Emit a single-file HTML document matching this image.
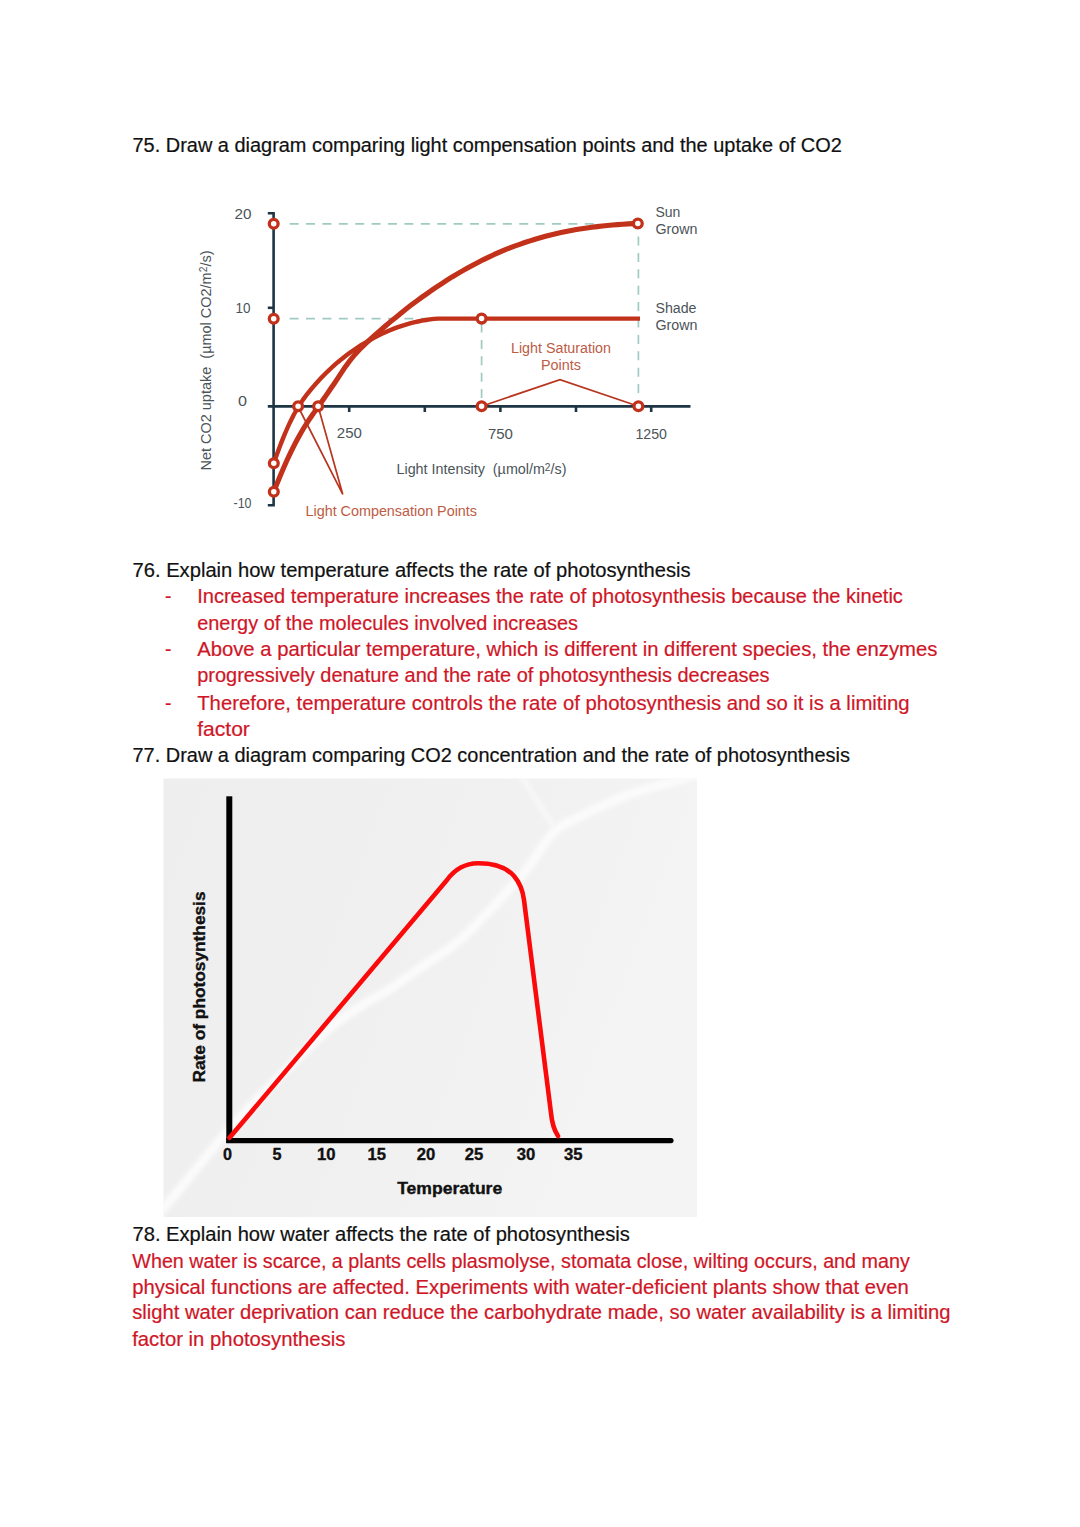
<!DOCTYPE html>
<html><head><meta charset="utf-8">
<style>
html,body{margin:0;padding:0;background:#fff;}
body{width:1080px;height:1527px;overflow:hidden;}
svg{display:block;}
.t{font-family:"Liberation Sans",sans-serif;font-size:19.3px;}
.k{fill:#111;stroke:#111;stroke-width:0.2;}
.r{fill:#cf1627;stroke:#cf1627;stroke-width:0.2;}
.c1{font-family:"Liberation Sans",sans-serif;font-size:14px;fill:#4b5459;}
.c1r{font-family:"Liberation Sans",sans-serif;font-size:14px;fill:#bd5b45;}
.c2{font-family:"Liberation Sans",sans-serif;font-weight:bold;font-size:16px;fill:#111;stroke:#111;stroke-width:0.35;}
</style></head>
<body>
<svg width="1080" height="1527" viewBox="0 0 1080 1527">
<!-- ===== Text ===== -->
<g class="t">
<text class="k" x="132.5" y="151.7" textLength="709.3" lengthAdjust="spacingAndGlyphs">75. Draw a diagram comparing light compensation points and the uptake of CO2</text>
<text class="k" x="132.5" y="576.9" textLength="558.1" lengthAdjust="spacingAndGlyphs">76. Explain how temperature affects the rate of photosynthesis</text>
<text class="r" x="165" y="603.3">-</text>
<text class="r" x="197.2" y="603.3" textLength="705.7" lengthAdjust="spacingAndGlyphs">Increased temperature increases the rate of photosynthesis because the kinetic</text>
<text class="r" x="197.2" y="629.5" textLength="380.9" lengthAdjust="spacingAndGlyphs">energy of the molecules involved increases</text>
<text class="r" x="165" y="656.2">-</text>
<text class="r" x="197.2" y="656.2" textLength="740.2" lengthAdjust="spacingAndGlyphs">Above a particular temperature, which is different in different species, the enzymes</text>
<text class="r" x="197.2" y="682.4" textLength="572.4" lengthAdjust="spacingAndGlyphs">progressively denature and the rate of photosynthesis decreases</text>
<text class="r" x="165" y="709.5">-</text>
<text class="r" x="197.2" y="709.5" textLength="712.4" lengthAdjust="spacingAndGlyphs">Therefore, temperature controls the rate of photosynthesis and so it is a limiting</text>
<text class="r" x="197.2" y="735.5" textLength="52.7" lengthAdjust="spacingAndGlyphs">factor</text>
<text class="k" x="132.5" y="762.3" textLength="717.4" lengthAdjust="spacingAndGlyphs">77. Draw a diagram comparing CO2 concentration and the rate of photosynthesis</text>
<text class="k" x="132.5" y="1240.6" textLength="497.4" lengthAdjust="spacingAndGlyphs">78. Explain how water affects the rate of photosynthesis</text>
<text class="r" x="132.3" y="1267.5" textLength="777.5" lengthAdjust="spacingAndGlyphs">When water is scarce, a plants cells plasmolyse, stomata close, wilting occurs, and many</text>
<text class="r" x="132.2" y="1293.7" textLength="776.5" lengthAdjust="spacingAndGlyphs">physical functions are affected. Experiments with water-deficient plants show that even</text>
<text class="r" x="132.2" y="1319.3" textLength="818.3" lengthAdjust="spacingAndGlyphs">slight water deprivation can reduce the carbohydrate made, so water availability is a limiting</text>
<text class="r" x="132.2" y="1345.8" textLength="213.3" lengthAdjust="spacingAndGlyphs">factor in photosynthesis</text>
</g>
<!-- CHART1 -->
<g id="chart1">
<!-- dashed guides -->
<g stroke="#a0cbc3" stroke-width="1.7" stroke-dasharray="9 7.4" fill="none">
<line x1="289.6" y1="223.8" x2="600" y2="223.8"/>
<line x1="289.6" y1="318.6" x2="436" y2="318.6"/>
<line x1="481.6" y1="323.5" x2="481.6" y2="402" stroke-dasharray="9 7.4"/>
<line x1="638.4" y1="236.5" x2="638.4" y2="396"/>
</g>
<!-- axes -->
<g stroke="#1e3546" fill="none" stroke-width="2.6">
<polyline points="267.8,213.3 273.6,213.3 273.6,505.2 267.8,505.2"/>
<line x1="267.8" y1="307.8" x2="273.6" y2="307.8"/>
<line x1="267.8" y1="406.4" x2="690.5" y2="406.4"/>
<line x1="349.2" y1="406.4" x2="349.2" y2="412"/>
<line x1="424.8" y1="406.4" x2="424.8" y2="412"/>
<line x1="500.4" y1="406.4" x2="500.4" y2="412"/>
<line x1="576" y1="406.4" x2="576" y2="412"/>
<line x1="651.2" y1="406.4" x2="651.2" y2="412"/>
</g>
<!-- curves -->
<g fill="none" stroke="#c2311a" stroke-linecap="round" stroke-linejoin="round">
<path d="M273.8,491.7 L276.3,485.4 L278.8,479.2 L281.3,473.2 L283.8,467.4 L286.3,461.8 L288.8,456.4 L291.3,451.1 L293.8,446.1 L296.3,441.3 L298.8,436.7 L301.3,432.2 L303.8,428.0 L306.3,424.0 L308.8,420.2 L311.3,416.5 L313.8,412.9 L316.3,409.4 L318.8,405.8 L321.3,402.3 L323.8,398.7 L326.3,395.1 L328.8,391.5 L331.3,387.8 L333.8,384.2 L339.0,376.4 L344.1,368.6 L349.3,361.4 L354.5,355.0 L359.6,349.5 L364.8,344.4 L369.9,339.7 L375.1,335.0 L380.3,330.5 L385.4,326.0 L390.6,321.6 L395.8,317.4 L400.9,313.2 L406.1,309.1 L411.2,305.1 L416.4,301.2 L421.6,297.4 L426.7,293.8 L431.9,290.2 L437.1,286.7 L442.2,283.3 L447.4,279.9 L452.5,276.7 L457.7,273.6 L462.9,270.6 L468.0,267.7 L473.2,264.9 L478.4,262.2 L483.5,259.6 L488.7,257.1 L493.8,254.7 L499.0,252.4 L504.2,250.2 L509.3,248.1 L514.5,246.1 L519.7,244.3 L524.8,242.5 L530.0,240.8 L535.1,239.2 L540.3,237.7 L545.5,236.3 L550.6,235.0 L555.8,233.8 L561.0,232.6 L566.1,231.5 L571.3,230.5 L576.4,229.6 L581.6,228.8 L586.8,228.0 L591.9,227.3 L597.1,226.6 L602.3,226.0 L607.4,225.5 L612.6,225.0 L617.7,224.6 L622.9,224.2 L628.1,223.9 L633.2,223.6 L638.4,223.4" stroke-width="5.1"/>
<path d="M273.8,463.2 L276.3,456.1 L278.8,449.2 L281.3,442.6 L283.8,436.4 L286.3,430.5 L288.8,424.9 L291.3,419.7 L293.8,414.8 L296.3,410.3 L298.8,406.1 L301.3,402.2 L303.8,398.6 L306.3,395.2 L308.8,392.1 L311.3,389.0 L313.8,386.1 L316.3,383.2 L318.8,380.5 L321.3,377.8 L323.8,375.2 L326.3,372.7 L328.8,370.3 L331.3,368.0 L333.8,365.7 L337.8,362.2 L341.8,358.9 L345.8,355.8 L349.8,352.8 L353.8,350.0 L357.8,347.3 L361.8,344.7 L365.9,342.3 L369.9,340.0 L373.9,337.8 L377.9,335.7 L381.9,333.8 L385.9,332.0 L389.9,330.2 L393.9,328.6 L397.9,327.2 L401.9,325.8 L405.9,324.6 L409.9,323.4 L413.9,322.4 L417.9,321.5 L422.0,320.7 L426.0,320.0 L430.0,319.4 L434.0,318.9 L438.0,318.6 L442.0,318.6 L446.0,318.6 L450.0,318.6 L481.6,318.6" stroke-width="4.4"/>
<line x1="481.6" y1="318.6" x2="640" y2="318.6" stroke-width="4.4" stroke-linecap="butt"/>
</g>
<!-- annotation lines -->
<g fill="none" stroke="#b8351f" stroke-width="1.7">
<polyline points="297.8,406 342.8,494.4 318.1,406.3"/>
<polyline points="481.6,406.2 560,379.6 638.4,406.2"/>
</g>
<!-- circles -->
<g fill="#fff" stroke="#c2311a" stroke-width="3.3">
<circle cx="273.7" cy="223.7" r="4.4"/>
<circle cx="273.7" cy="318.7" r="4.4"/>
<circle cx="273.8" cy="463.2" r="4.4"/>
<circle cx="273.8" cy="491.7" r="4.4"/>
<circle cx="298.1" cy="406.2" r="4.4"/>
<circle cx="318.1" cy="406.2" r="4.4"/>
<circle cx="481.6" cy="318.6" r="4.4"/>
<circle cx="481.6" cy="406.2" r="4.4"/>
<circle cx="638.4" cy="406.2" r="4.4"/>
<circle cx="637.8" cy="223.5" r="4.4"/>
</g>
<!-- labels -->
<g class="c1">
<text x="234.5" y="219.4" textLength="17" lengthAdjust="spacingAndGlyphs">20</text>
<text x="235.5" y="312.5" textLength="15" lengthAdjust="spacingAndGlyphs">10</text>
<text x="238" y="405.5" textLength="9" lengthAdjust="spacingAndGlyphs">0</text>
<text x="233.5" y="508" textLength="18" lengthAdjust="spacingAndGlyphs">-10</text>
<text x="336.8" y="438.3" textLength="25" lengthAdjust="spacingAndGlyphs">250</text>
<text x="487.9" y="438.9" textLength="25" lengthAdjust="spacingAndGlyphs">750</text>
<text x="635.5" y="438.9" textLength="31.5" lengthAdjust="spacingAndGlyphs">1250</text>
<text x="655.5" y="217.3">Sun</text>
<text x="655.5" y="234.4" textLength="42" lengthAdjust="spacingAndGlyphs">Grown</text>
<text x="655.5" y="312.9" textLength="41" lengthAdjust="spacingAndGlyphs">Shade</text>
<text x="655.5" y="330" textLength="42" lengthAdjust="spacingAndGlyphs">Grown</text>
<text x="396.5" y="474.4" textLength="170" lengthAdjust="spacingAndGlyphs">Light Intensity  (µmol/m<tspan font-size="10" dy="-3.5">2</tspan><tspan dy="3.5">/s)</tspan></text>
<text transform="translate(210.8,470.5) rotate(-90)" x="0" y="0" textLength="220" lengthAdjust="spacingAndGlyphs">Net CO2 uptake  (µmol CO2/m<tspan font-size="10" dy="-3.5">2</tspan><tspan dy="3.5">/s)</tspan></text>
</g>
<g class="c1r">
<text x="511" y="352.9" textLength="100" lengthAdjust="spacingAndGlyphs">Light Saturation</text>
<text x="541" y="370" textLength="40" lengthAdjust="spacingAndGlyphs">Points</text>
<text x="305.5" y="516.1" textLength="171.5" lengthAdjust="spacingAndGlyphs">Light Compensation Points</text>
</g>
</g>

<!-- CHART2 -->
<g id="chart2">
<defs>
<filter id="blur6" x="-20%" y="-20%" width="140%" height="140%"><feGaussianBlur stdDeviation="4"/></filter>
<filter id="blur2" x="-20%" y="-20%" width="140%" height="140%"><feGaussianBlur stdDeviation="2"/></filter>
<clipPath id="cp2"><rect x="163.5" y="778.5" width="533.5" height="438.5"/></clipPath>
</defs>
<linearGradient id="bg2" x1="0" y1="0" x2="1" y2="0.3"><stop offset="0" stop-color="#eeeeee"/><stop offset="0.5" stop-color="#f0f0f0"/><stop offset="1" stop-color="#f4f4f4"/></linearGradient>
<rect x="163.5" y="778.5" width="533.5" height="438.5" fill="url(#bg2)"/>
<g clip-path="url(#cp2)" fill="none" stroke="#fbfbfb" stroke-linecap="round" stroke-linejoin="round">
<path d="M150.0,1222.0 C153.4,1218.3 156.7,1216.2 170.5,1200.0 C184.3,1183.8 213.1,1147.3 233.0,1125.0 C252.9,1102.7 274.0,1082.0 290.0,1066.0 C306.0,1050.0 317.3,1038.9 329.0,1029.0 C340.7,1019.1 349.3,1013.8 360.0,1006.7 C370.7,999.7 382.2,993.9 393.3,986.7 C404.4,979.5 415.6,971.1 426.7,963.3 C437.8,955.5 448.9,949.4 460.0,940.0 C471.1,930.6 485.0,915.3 493.3,906.7 C501.6,898.1 504.2,894.8 510.0,888.3 C515.8,881.8 520.8,877.2 528.0,868.0 C535.2,858.8 544.7,841.4 553.0,833.0 C561.3,824.6 565.5,823.8 578.0,817.5 C590.5,811.2 611.3,801.2 628.0,795.0 C644.7,788.8 662.7,784.5 678.0,780.0 C693.3,775.5 713.0,770.0 720.0,768.0" stroke-width="9" filter="url(#blur2)"/>
<path d="M520,774 C530,790 542,808 552,824" stroke-width="6" filter="url(#blur2)" opacity="0.6"/>
</g>
<g fill="#000" stroke="none">
<rect x="226.3" y="796.3" width="6" height="346.7"/>
<path d="M226.3,1138 L671,1138 A2.6,2.6 0 0 1 671,1143.2 L226.3,1143.2 Z"/>
</g>
<path d="M229.5,1137.8 L447,880 C455,869 465,863.5 478,863.3 C492,863.2 505,866 514,876 C520,883 523,892 524,900 L551,1113 C552,1124 554,1130 558,1136" fill="none" stroke="#fa0a0a" stroke-width="4.6" stroke-linejoin="round" stroke-linecap="round"/>
<g class="c2">
<text x="223" y="1160" textLength="9" lengthAdjust="spacingAndGlyphs">0</text>
<text x="272.5" y="1160" textLength="9" lengthAdjust="spacingAndGlyphs">5</text>
<text x="317" y="1160" textLength="18.5" lengthAdjust="spacingAndGlyphs">10</text>
<text x="367.5" y="1160" textLength="18.5" lengthAdjust="spacingAndGlyphs">15</text>
<text x="416.8" y="1160" textLength="18.5" lengthAdjust="spacingAndGlyphs">20</text>
<text x="464.8" y="1160" textLength="18.5" lengthAdjust="spacingAndGlyphs">25</text>
<text x="516.8" y="1160" textLength="18.5" lengthAdjust="spacingAndGlyphs">30</text>
<text x="564" y="1160" textLength="18.5" lengthAdjust="spacingAndGlyphs">35</text>
<text x="397.2" y="1193.8" textLength="105" lengthAdjust="spacingAndGlyphs">Temperature</text>
<text transform="translate(204.8,1082.5) rotate(-90)" x="0" y="0" textLength="191" lengthAdjust="spacingAndGlyphs">Rate of photosynthesis</text>
</g>
</g>

</svg>
</body></html>
